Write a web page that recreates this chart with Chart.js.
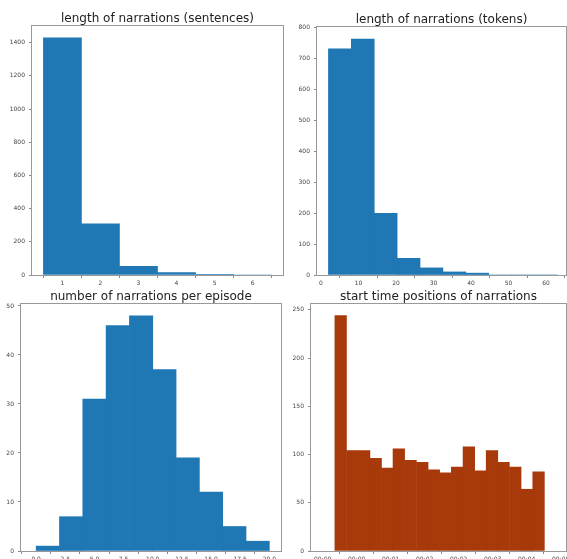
<!DOCTYPE html>
<html>
<head>
<meta charset="utf-8">
<script src="https://cdn.jsdelivr.net/npm/chart.js@4/dist/chart.umd.min.js"></script>
<style>
  html, body { margin: 0; padding: 0; background: #fff; overflow: hidden; width: 567px; height: 559px; position: relative; }
  canvas { position: absolute; }
</style>
</head>
<body>
<canvas id="sentencesChart"></canvas>
<canvas id="tokensChart"></canvas>
<canvas id="episodeChart"></canvas>
<canvas id="startChart"></canvas>
<script>
// LENGTH OF NARRATIONS (SENTENCES)
const sentenceEdges = [0.5, 1.5, 2.5, 3.5, 4.5, 5.5, 6.5];
const sentenceCounts = [1430, 309, 52, 14, 4, 0];
const sentenceXTicks = [1, 2, 3, 4, 5, 6];
const sentenceYTicks = [0, 200, 400, 600, 800, 1000, 1200, 1400];

// LENGTH OF NARRATIONS (TOKENS)
const tokenEdges = [2, 8.1, 14.2, 20.3, 26.4, 32.5, 38.6, 44.7, 50.8, 56.9, 63];
const tokenCounts = [732, 764, 200, 54, 23, 10, 6, 0, 0, 0];
const tokenXTicks = [0, 10, 20, 30, 40, 50, 60];
const tokenYTicks = [0, 100, 200, 300, 400, 500, 600, 700, 800];

// NUMBER OF NARRATIONS PER EPISODE
const episodeEdges = [0, 2, 4, 6, 8, 10, 12, 14, 16, 18, 20];
const episodeCounts = [1, 7, 31, 46, 48, 37, 19, 12, 5, 2];
const episodeXTicks = [0, 2.5, 5, 7.5, 10, 12.5, 15, 17.5, 20];
const episodeYTicks = [0, 10, 20, 30, 40, 50];

// START TIME POSITIONS OF NARRATIONS
const startEdges = [0.36, 0.70, 1.05, 1.39, 1.73, 2.07, 2.41, 2.76, 3.10, 3.44,
                    3.78, 4.13, 4.47, 4.81, 5.15, 5.49, 5.84, 6.18, 6.52];
const startCounts = [244, 104, 104, 96, 86, 106, 94, 92, 84, 81, 87, 108, 83, 104, 92, 87, 64, 82];
const startXTicks = [0, 1, 2, 3, 4, 5, 6, 7];
const startXLabels = ["00:00", "00:00", "00:01", "00:02", "00:02", "00:03", "00:04", "00:05"];
const startYTicks = [0, 50, 100, 150, 200, 250];

const Y_W = 30, X_H = 14, TITLE_H = 15, PAD_R = 24, PAD_B = 6;
const TICK_FONT = { family: "'DejaVu Sans'", size: 6 };

const spines = {
  id: "spines",
  afterDatasetsDraw(chart) {
    const a = chart.chartArea, ctx = chart.ctx;
    ctx.save();
    ctx.strokeStyle = "#999";
    ctx.lineWidth = 1;
    ctx.strokeRect(a.left - 0.5, a.top - 0.5, a.right - a.left + 1, a.bottom - a.top + 1);
    ctx.restore();
  }
};

function histogram(id, box, h) {
  const el = document.getElementById(id);
  const w = Y_W + (box.right - box.left) + PAD_R;
  const ht = TITLE_H + (box.bottom - box.top) + X_H + PAD_B;
  el.width = w; el.height = ht;
  el.style.width = w + "px"; el.style.height = ht + "px";
  el.style.left = (box.left - Y_W) + "px";
  el.style.top = (box.top - TITLE_H) + "px";

  const points = h.counts.map((c, i) => ({ x: (h.edges[i] + h.edges[i + 1]) / 2, y: c }));

  new Chart(el, {
    type: "bar",
    data: {
      datasets: [{
        data: points,
        backgroundColor: h.color,
        borderWidth: 0,
        barPercentage: 1,
        categoryPercentage: 1
      }]
    },
    options: {
      responsive: false,
      animation: false,
      layout: { padding: { left: 0, top: 0, right: PAD_R, bottom: PAD_B } },
      plugins: {
        legend: { display: false },
        tooltip: { enabled: false },
        title: {
          display: true,
          text: h.title,
          fullSize: false,
          color: "#222",
          font: { family: "'DejaVu Sans'", size: 12, weight: "normal", lineHeight: 1.25 },
          padding: 0
        }
      },
      scales: {
        x: {
          type: "linear",
          offset: false,
          min: h.xMin, max: h.xMax,
          grid: { drawOnChartArea: false, drawTicks: true, tickLength: 3, color: "#888" },
          border: { display: false },
          ticks: {
            font: TICK_FONT, color: "#444", padding: 2, maxRotation: 0, autoSkip: false,
            callback: h.xLabel
          },
          afterBuildTicks: s => { s.ticks = h.xTicks.map(v => ({ value: v })); },
          afterFit: s => { s.height = X_H; }
        },
        y: {
          min: 0, max: h.yMax,
          grid: { drawOnChartArea: false, drawTicks: true, tickLength: 3, color: "#888" },
          border: { display: false },
          ticks: { font: TICK_FONT, color: "#444", padding: 4, callback: v => String(v) },
          afterBuildTicks: s => { s.ticks = h.yTicks.map(v => ({ value: v })); },
          afterFit: s => { s.width = Y_W; }
        }
      }
    },
    plugins: [spines]
  });
}

histogram("sentencesChart", { left: 32, top: 26, right: 283, bottom: 275 }, {
  title: "length of narrations (sentences)",
  edges: sentenceEdges, counts: sentenceCounts, color: "#1f77b4",
  xMin: 0.2, xMax: 6.8, xTicks: sentenceXTicks, xLabel: v => String(v),
  yMax: 1501, yTicks: sentenceYTicks
});

histogram("tokensChart", { left: 317, top: 27, right: 566, bottom: 275 }, {
  title: "length of narrations (tokens)",
  edges: tokenEdges, counts: tokenCounts, color: "#1f77b4",
  xMin: -1.05, xMax: 65.3, xTicks: tokenXTicks, xLabel: v => String(v),
  yMax: 803, yTicks: tokenYTicks
});

histogram("episodeChart", { left: 21, top: 304, right: 281, bottom: 551 }, {
  title: "number of narrations per episode",
  edges: episodeEdges, counts: episodeCounts, color: "#1f77b4",
  xMin: -1.3, xMax: 21, xTicks: episodeXTicks, xLabel: v => v.toFixed(1),
  yMax: 50.4, yTicks: episodeYTicks
});

histogram("startChart", { left: 311, top: 304, right: 566, bottom: 551 }, {
  title: "start time positions of narrations",
  edges: startEdges, counts: startCounts, color: "#a8390a",
  xMin: -0.343, xMax: 7.157, xTicks: startXTicks, xLabel: (v, i) => startXLabels[i],
  yMax: 256, yTicks: startYTicks
});
</script>
</body>
</html>
